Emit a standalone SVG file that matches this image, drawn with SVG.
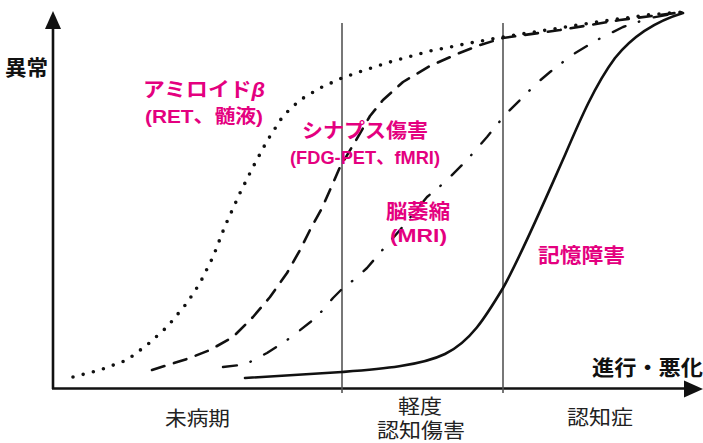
<svg xmlns="http://www.w3.org/2000/svg" width="703" height="443" viewBox="0 0 703 443">
<style>
text{font-family:"Liberation Sans","Noto Sans CJK JP",sans-serif}
.pk{fill:#e4007f;font-weight:bold;font-size:20px}
.pp{fill:#e4007f;font-weight:bold;font-size:19px}
.bk{fill:#111;font-weight:bold;font-size:21px}
.rg{fill:#222;font-weight:normal;font-size:20px}
.crv{fill:none;stroke:#111;stroke-linecap:round;stroke-linejoin:round}
.div{stroke:#555;stroke-width:1.6}
</style>
<rect width="703" height="443" fill="#fff"/>
<g id="axes">
<line x1="53" y1="26" x2="53" y2="389" stroke="#111" stroke-width="2.6"/>
<polygon points="53,11 45,29 61,29" fill="#111"/>
<line x1="52" y1="388.5" x2="686" y2="388.5" stroke="#111" stroke-width="2.6"/>
<polygon points="703,389 684,380.5 684,397.5" fill="#111"/>
</g>
<g id="dividers">
<line class="div" x1="342" y1="23" x2="342" y2="393"/>
<line class="div" x1="503" y1="23" x2="503" y2="393"/>
</g>
<g id="connectors">
<path id="amyloid" class="crv" stroke-width="3.6" stroke-dasharray="0 10.5" d="M73,377 L100,370 L127,360 L147,345 L167,327 L187,303 L200,283 L213,257 L225,226 L240,193 L253,167 L267,141 L283,116 L300,100 L320,88 L342,78 L365,70 L390,62 L430,51 L470,43 L503,37 L547,30 L597,22 L647,15 L683,12"/>
<path id="synapse" class="crv" stroke-width="2.6" stroke-dasharray="13 10" d="M152,370 L187,359 L210,350 L233,337 L253,317 L270,297 L287,273 L300,250 L310,230 L322,208 L330,190 L340,167 L355,142 L370,116 L383,100 L403,82 L430,66 L457,54 L480,45 L503,38 L560,30 L620,20 L683,12"/>
<path id="atrophy" class="crv" stroke-width="2.4" stroke-dasharray="14 14 0.5 15" d="M223,367 L240,365 L250,362 L267,353 L290,338 L313,320 L323,310 L333,298 L343,288 L355,279 L367,268 L385,247 L400,230 L427,197 L445,182 L467,160 L487,137 L505,115 L523,97 L537,83 L550,72 L572,55 L597,40 L623,27 L650,18 L683,12"/>
<path id="memory" class="crv" stroke-width="2.6" d="M245,378 L342,372 C380,369 420,366 445,354 C470,342 485,318 503,288 C520,258 545,200 565,155 C580,120 595,85 615,58 C635,33 660,20 683,13"/>
</g>
<g id="label-ijou"><text class="bk" x="5" y="75" textLength="43" lengthAdjust="spacingAndGlyphs">異常</text></g>
<g id="label-progress"><text class="bk" x="592" y="375" textLength="111" lengthAdjust="spacingAndGlyphs">進行・悪化</text></g>
<g id="node-amyloid">
<text class="pk" x="143" y="97" textLength="122" lengthAdjust="spacingAndGlyphs">アミロイド<tspan font-style="italic">β</tspan></text>
<text class="pp" x="145" y="123" textLength="118" lengthAdjust="spacingAndGlyphs">(RET、髄液)</text>
</g>
<g id="node-synapse">
<text class="pk" x="302" y="138" textLength="126" lengthAdjust="spacingAndGlyphs">シナプス傷害</text>
<text class="pp" x="290" y="164" textLength="150" lengthAdjust="spacingAndGlyphs">(FDG-PET、fMRI)</text>
</g>
<g id="node-atrophy">
<text class="pk" x="386" y="219" textLength="64" lengthAdjust="spacingAndGlyphs">脳萎縮</text>
<text class="pp" x="390" y="242" textLength="57" lengthAdjust="spacingAndGlyphs">(MRI)</text>
</g>
<g id="node-memory">
<text class="pk" x="538" y="263" textLength="87" lengthAdjust="spacingAndGlyphs">記憶障害</text>
</g>
<g id="stage-preclinical"><text class="rg" x="165" y="426" textLength="65" lengthAdjust="spacingAndGlyphs">未病期</text></g>
<g id="stage-mci">
<text class="rg" x="398" y="414" textLength="44" lengthAdjust="spacingAndGlyphs">軽度</text>
<text class="rg" x="377" y="438" textLength="88" lengthAdjust="spacingAndGlyphs">認知傷害</text>
</g>
<g id="stage-dementia"><text class="rg" x="567" y="425" textLength="66" lengthAdjust="spacingAndGlyphs">認知症</text></g>
</svg>
